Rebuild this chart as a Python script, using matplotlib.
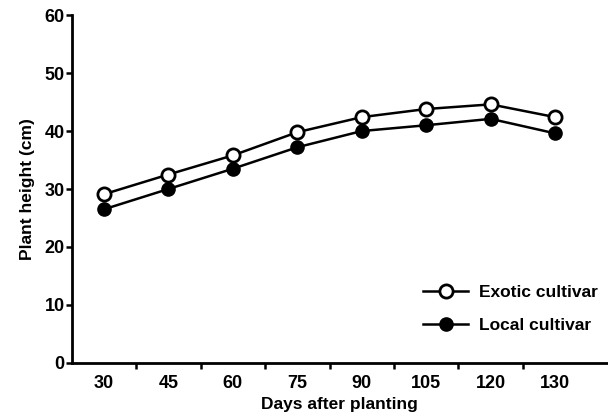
import numpy as np
import matplotlib
matplotlib.use("Agg")
import matplotlib.pyplot as plt

plt.rcParams["font.family"] = ["Liberation Sans", "DejaVu Sans"]
plt.rcParams["font.weight"] = "bold"

days = ["30", "45", "60", "75", "90", "105", "120", "130"]
exotic = [29.1, 32.5, 35.8, 39.8, 42.4, 43.8, 44.6, 42.4]
local = [26.5, 30.0, 33.5, 37.2, 40.0, 41.0, 42.1, 39.6]

x = np.arange(len(days))

fig = plt.figure(figsize=(6.08, 4.2), dpi=100, facecolor="white")
ax = fig.add_axes([0.118, 0.136, 0.882, 0.828])

ax.plot(x, exotic, color="black", linewidth=1.8, marker="o", markersize=9.5,
        markerfacecolor="white", markeredgecolor="black", markeredgewidth=2,
        label="Exotic cultivar", zorder=3)
ax.plot(x, local, color="black", linewidth=1.8, marker="o", markersize=9.5,
        markerfacecolor="black", markeredgecolor="black",
        label="Local cultivar", zorder=3)

ax.set_xlim(-0.5, 7.82)
ax.set_ylim(0, 60)
ax.set_yticks([0, 10, 20, 30, 40, 50, 60])

ax.set_xticks(x)
ax.set_xticklabels(days)
ax.set_xticks(x[:-1] + 0.5, minor=True)
ax.tick_params(axis="x", which="major", length=0, labelsize=13, pad=9)
ax.tick_params(axis="x", which="minor", length=4, width=1.8, direction="out")
ax.tick_params(axis="y", length=4, width=1.8, direction="out", labelsize=13, pad=1)

for s in ["top", "right"]:
    ax.spines[s].set_visible(False)
for s in ["left", "bottom"]:
    ax.spines[s].set_linewidth(2)

ax.set_xlabel("Days after planting", fontsize=12.5, fontweight="bold", labelpad=3)
ax.set_ylabel("Plant height (cm)", fontsize=12.5, fontweight="bold", labelpad=7)

ax.legend(loc="lower right", frameon=False, fontsize=12.5, handlelength=2.6,
          handletextpad=0.6, labelspacing=1.05, bbox_to_anchor=(1.01, 0.04))

fig.savefig("out.png", dpi=100, facecolor="white")
